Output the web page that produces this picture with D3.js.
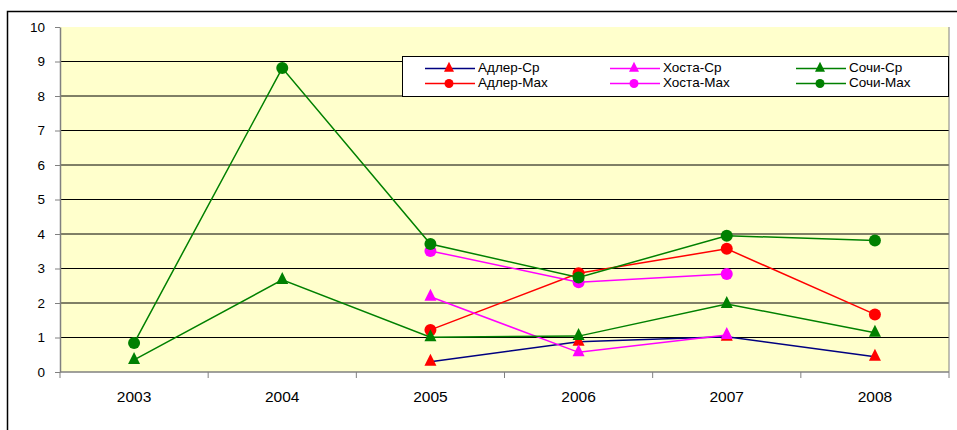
<!DOCTYPE html>
<html>
<head>
<meta charset="utf-8">
<script src="https://cdn.jsdelivr.net/npm/d3@7"></script>
<style>
  body { margin: 0; background: #fff; }
  text { font-family: "Liberation Sans", Arial, sans-serif; }
</style>
</head>
<body>
<div class="chart-wrapper"></div>
<script>
const years = [2003, 2004, 2005, 2006, 2007, 2008];
const yTicks = [0, 1, 2, 3, 4, 5, 6, 7, 8, 9, 10];

const adlerAvg = [null, null, 0.30, 0.88, 1.02, 0.44];
const adlerMax = [null, null, 1.22, 2.86, 3.57, 1.67];
const khostaAvg = [null, null, 2.18, 0.57, 1.07, null];
const khostaMax = [null, null, 3.51, 2.60, 2.84, null];
const sochiAvg = [0.35, 2.67, 1.01, 1.04, 1.97, 1.14];
const sochiMax = [0.84, 8.81, 3.71, 2.74, 3.95, 3.81];

const seriesNames = ['Адлер-Ср', 'Адлер-Max', 'Хоста-Ср', 'Хоста-Max', 'Сочи-Ср', 'Сочи-Max'];

function drawChart() {
    const series = [
        {name: seriesNames[0], values: adlerAvg, line: '#000080', marker: '#ff0000', shape: 'tri'},
        {name: seriesNames[1], values: adlerMax, line: '#ff0000', marker: '#ff0000', shape: 'circle'},
        {name: seriesNames[2], values: khostaAvg, line: '#ff00ff', marker: '#ff00ff', shape: 'tri'},
        {name: seriesNames[3], values: khostaMax, line: '#ff00ff', marker: '#ff00ff', shape: 'circle'},
        {name: seriesNames[4], values: sochiAvg, line: '#008000', marker: '#008000', shape: 'tri'},
        {name: seriesNames[5], values: sochiMax, line: '#008000', marker: '#008000', shape: 'circle'},
    ];

    const dims = {
        width: 957,
        height: 430,
        margin: {top: 27, right: 8, bottom: 58, left: 60},
    };
    dims.boundedWidth = dims.width - dims.margin.left - dims.margin.right;
    dims.boundedHeight = dims.height - dims.margin.top - dims.margin.bottom;

    const wrapper = d3.select('.chart-wrapper')
        .append('svg')
        .attr('width', dims.width)
        .attr('height', dims.height);

    // outer chart frame (left + top visible)
    wrapper.append('path')
        .attr('d', `M7.5,${dims.height} V11.5 H${dims.width}`)
        .attr('fill', 'none')
        .attr('stroke', '#000')
        .attr('stroke-width', 1.5);

    const bounds = wrapper.append('g')
        .attr('transform', `translate(${dims.margin.left}, ${dims.margin.top})`);

    const xScale = d3.scaleBand()
        .domain(years)
        .range([0, dims.boundedWidth]);

    const yScale = d3.scaleLinear()
        .domain([0, 10])
        .range([dims.boundedHeight, 0]);

    bounds.append('rect')
        .attr('width', dims.boundedWidth)
        .attr('height', dims.boundedHeight)
        .attr('fill', '#ffffcc');

    // gridlines
    bounds.append('g')
        .selectAll('line')
        .data(yTicks.filter(d => d > 0 && d < 10))
        .join('line')
        .attr('x1', 0)
        .attr('x2', dims.boundedWidth)
        .attr('y1', d => yScale(d))
        .attr('y2', d => yScale(d))
        .attr('stroke', '#000')
        .attr('stroke-width', 1);

    // right plot border
    bounds.append('line')
        .attr('x1', dims.boundedWidth).attr('x2', dims.boundedWidth)
        .attr('y1', 0).attr('y2', dims.boundedHeight)
        .attr('stroke', '#808080');

    const yAxis = d3.axisLeft(yScale)
        .tickValues(yTicks)
        .tickSize(5)
        .tickPadding(10)
        .tickSizeOuter(0);

    const yAxisG = bounds.append('g').call(yAxis);
    yAxisG.attr('font-size', null).attr('font-family', null);
    yAxisG.select('.domain').attr('stroke', '#808080').attr('stroke-width', 1.5);
    yAxisG.selectAll('.tick line').attr('stroke', '#808080');
    yAxisG.selectAll('.tick text')
        .style('font-size', '13.5px')
        .attr('fill', '#000');

    const xAxisG = bounds.append('g')
        .attr('transform', `translate(0, ${dims.boundedHeight})`);

    xAxisG.append('line')
        .attr('x1', 0).attr('x2', dims.boundedWidth)
        .attr('stroke', '#808080').attr('stroke-width', 1.5);

    const boundaries = years.map(y => xScale(y)).concat([dims.boundedWidth]);
    xAxisG.selectAll('.xtick')
        .data(boundaries)
        .join('line')
        .attr('class', 'xtick')
        .attr('x1', d => d).attr('x2', d => d)
        .attr('y1', 0).attr('y2', 6)
        .attr('stroke', '#808080');

    xAxisG.selectAll('.xlabel')
        .data(years)
        .join('text')
        .attr('class', 'xlabel')
        .attr('x', d => xScale(d) + xScale.bandwidth() / 2)
        .attr('y', 29.5)
        .attr('text-anchor', 'middle')
        .style('font-size', '15.5px')
        .text(d => d);

    const cx = (d, i) => xScale(years[i]) + xScale.bandwidth() / 2;

    const lineGenerator = d3.line()
        .defined(d => d !== null)
        .x((d, i) => cx(d, i))
        .y(d => yScale(d));

    const triPath = (w, h) => `M0,${-h * 2 / 3}L${w / 2},${h / 3}L${-w / 2},${h / 3}Z`;

    function drawMarker(g, shape, color, big) {
        if (shape === 'circle') {
            g.append('circle')
                .attr('r', big ? 6 : 4.5)
                .attr('fill', color);
        } else {
            g.append('path')
                .attr('d', big ? triPath(12, 12) : triPath(10, 10))
                .attr('fill', color);
        }
    }

    series.forEach(s => {
        const g = bounds.append('g');
        g.append('path')
            .attr('d', lineGenerator(s.values))
            .attr('fill', 'none')
            .attr('stroke', s.line)
            .attr('stroke-width', 1.5);

        s.values.forEach((v, i) => {
            if (v === null) return;
            const m = g.append('g')
                .attr('transform', `translate(${cx(v, i)}, ${yScale(v)})`);
            drawMarker(m, s.shape, s.marker, true);
        });
    });

    // legend
    const legend = wrapper.append('g')
        .attr('transform', 'translate(402, 56)');

    legend.append('rect')
        .attr('x', 0.5).attr('y', 0.5)
        .attr('width', 546).attr('height', 40)
        .attr('fill', '#fff')
        .attr('stroke', '#000')
        .attr('stroke-width', 1);

    const colX = [23, 208, 394];
    const rowY = [12.5, 27.5];

    series.forEach((s, i) => {
        const col = Math.floor(i / 2);
        const row = i % 2;
        const item = legend.append('g')
            .attr('transform', `translate(${colX[col]}, ${rowY[row]})`);
        item.append('line')
            .attr('x1', 0).attr('x2', 50)
            .attr('stroke', s.line)
            .attr('stroke-width', 1.5);
        const m = item.append('g').attr('transform', 'translate(24, 0)');
        drawMarker(m, s.shape, s.marker, false);
        item.append('text')
            .attr('x', 53)
            .attr('y', 3)
            .style('font-size', '13.5px')
            .text(s.name);
    });
}

drawChart();
</script>
</body>
</html>
